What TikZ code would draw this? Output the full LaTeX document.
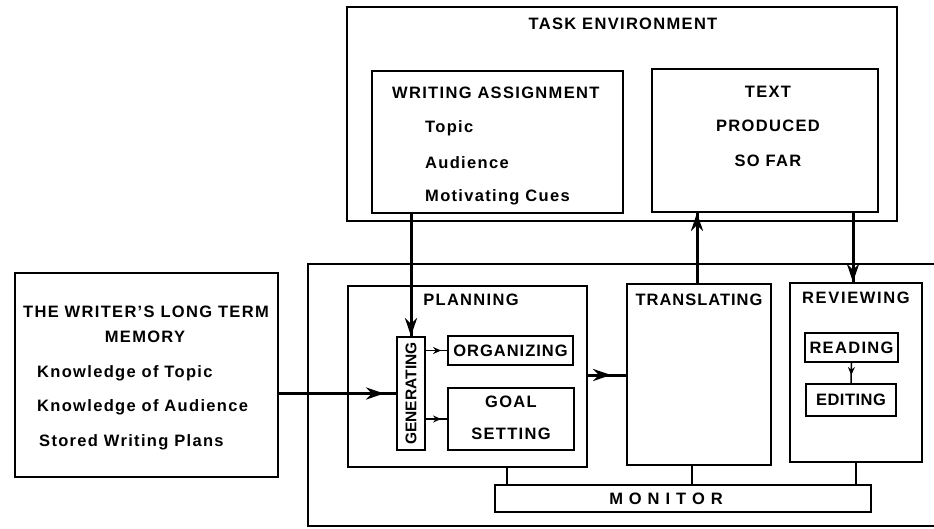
\documentclass[tikz,border=0pt]{standalone}
\usepackage{fontspec}
\setmainfont{Liberation Sans}[LetterSpace=8]
\usetikzlibrary{arrows.meta,decorations.markings}

\begin{document}
\begin{tikzpicture}[
    x=1pt, y=-1pt,
    every node/.style={font=\fontsize{16.5}{19}\selectfont\bfseries, inner sep=0pt},
    box/.style 2 args={draw, line width=1.8pt, minimum width=#1pt, minimum height=#2pt},
    mainline/.style={line width=3pt},
    thinline/.style={line width=1.5pt},
    headat/.style={postaction={decorate}, decoration={markings,
        mark=at position #1 with {\arrow{Stealth[length=18pt,width=12pt]}}}},
    smallheadat/.style={postaction={decorate}, decoration={markings,
        mark=at position #1 with {\arrow{Stealth[length=8pt,width=7pt]}}}}
]
    \useasboundingbox (0,0) rectangle (934,528);
    \clip (0,0) rectangle (934,528);

    % Task environment
    \node[box={550}{214}] (taskenv) at (622,114) {};
    \node (tasklabel) at (623,24) {TASK ENVIRONMENT};
    \node[box={251}{142}] (assign) at (497.5,142) {};
    \node[anchor=west] (assignlabel) at (392,93) {WRITING ASSIGNMENT};
    \node[anchor=west] (topic) at (425,128) {Topic};
    \node[anchor=west] (audience) at (425,163) {Audience};
    \node[anchor=west] (cues) at (425,197) {Motivating Cues};
    \node[box={226}{143}] (sofar) at (765,140.5) {};
    \node (sofar1) at (768,92) {TEXT};
    \node (sofar2) at (768,126) {PRODUCED};
    \node (sofar3) at (768,161) {SO FAR};

    % Long term memory
    \node[box={263}{204}] (memory) at (146.5,375) {};
    \node (mem1) at (146,312) {THE WRITER'S LONG TERM};
    \node (mem2) at (145,337) {MEMORY};
    \node[anchor=west] (mem3) at (37,373) {Knowledge of Topic};
    \node[anchor=west] (mem4) at (37,407) {Knowledge of Audience};
    \node[anchor=west] (mem5) at (39,442) {Stored Writing Plans};

    % Writing processes
    \node[box={637}{262}] (process) at (626.5,395) {};
    \node[box={239}{181}] (plan) at (467.5,376.5) {};
    \node (planlabel) at (471,300) {PLANNING};
    \node[box={28}{113}] (gen) at (411,393.5) {};
    \node[rotate=90] (genlabel) at (gen) {\fontsize{15.5}{18}\selectfont\addfontfeature{LetterSpace=0}GENERATING};
    \node[box={125}{29}] (org) at (510.5,350.5) {\addfontfeature{LetterSpace=6}ORGANIZING};
    \node[box={126}{62}] (goal) at (511,419) {};
    \node (goal1) at (511,402) {GOAL};
    \node (goal2) at (511,434) {SETTING};
    \node[box={144}{181}] (trans) at (699,374.5) {};
    \node (translabel) at (699,300) {\addfontfeature{LetterSpace=6}TRANSLATING};
    \node[box={132}{179}] (rev) at (856,372.5) {};
    \node (revlabel) at (856,298) {\addfontfeature{LetterSpace=10}REVIEWING};
    \node[box={93}{29}] (read) at (851.5,347.5) {READING};
    \node[box={90}{32}] (edit) at (851,400) {\addfontfeature{LetterSpace=3}EDITING};
    \node[box={376}{27}] (mon) at (683,498.5) {};
    \node (monlabel) at (666,499) {M O N I T O R};

    % Connections
    \draw[mainline, headat=1] (gen |- assign.south) -- (gen.north);
    \draw[mainline, headat=-12pt] (memory.east |- gen.west) -- (gen.west);
    \draw[mainline, headat=-15pt] (plan.east |- 0,375) -- (trans.west |- 0,375);
    \draw[mainline, headat=1] ([xshift=-2pt]trans.north) -- ([xshift=-2pt]trans.north |- sofar.south);
    \draw[mainline, headat=1] ([xshift=-3pt]rev.north |- sofar.south) -- ([xshift=-3pt]rev.north);
    \draw[thinline, smallheadat=-6pt] (gen.east |- org.west) -- (org.west);
    \draw[thinline, smallheadat=-6pt] (gen.east |- goal.west) -- (goal.west);
    \draw[thinline, smallheadat=0.6] (read.south) -- (edit.north);
    \draw[thinline] ([xshift=13pt]mon.north west |- plan.south) -- ([xshift=13pt]mon.north west);
    \draw[thinline] ([xshift=-7pt]trans.south) -- ([xshift=-7pt]trans.south |- mon.north);
    \draw[thinline] (rev.south) -- (rev.south |- mon.north);
\end{tikzpicture}
\end{document}
